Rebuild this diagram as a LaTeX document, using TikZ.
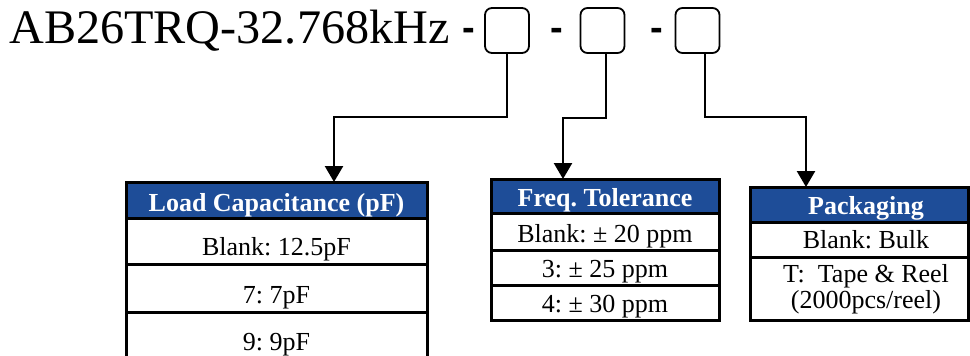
\documentclass[tikz,border=0pt]{standalone}
\usepackage{fontspec}
\setmainfont{Liberation Serif}
\setsansfont{Liberation Sans}
\usetikzlibrary{arrows.meta}
\definecolor{hdrblue}{RGB}{30,77,152}
\frenchspacing
\tikzset{
  cell/.style={draw=black, line width=3pt, rectangle, inner sep=0pt, outer sep=0pt},
  hdr/.style={cell, fill=hdrblue},
  pick/.style={draw=black, line width=1.8pt, rounded corners=7pt, minimum width=44pt, minimum height=45pt, inner sep=0pt},
  conn/.style={line width=2.5pt, -{Triangle[width=18pt,length=16pt]}},
  txt/.style={inner sep=0pt, anchor=base, font=\fontsize{26}{26}\selectfont\frenchspacing},
  htxt/.style={txt, text=white, font=\fontsize{26}{26}\selectfont\bfseries\frenchspacing},
  dashtxt/.style={inner sep=0pt, anchor=base, font=\fontsize{38}{38}\selectfont\sffamily\bfseries}
}
\begin{document}
\begin{tikzpicture}[x=1pt,y=-1pt]
\useasboundingbox (0,0) rectangle (970,356);
% title
\node[inner sep=0pt, anchor=base west, font=\fontsize{48.2}{48.2}\selectfont] (title) at (9,43) {AB26TRQ-32.768kHz};
\node[dashtxt] (d1) at (468.5,40.5) {-};
\node[dashtxt] (d2) at (556.5,40.5) {-};
\node[dashtxt] (d3) at (656.5,40.5) {-};
\node[pick] (s1) at (507,30.5) {};
\node[pick] (s2) at (602.5,30.5) {};
\node[pick] (s3) at (697.5,30.5) {};
% table 1
\node[hdr, minimum width=301pt, minimum height=36pt] (t1) at (276.5,200) {};
\node[cell, minimum width=301pt, minimum height=46pt] (t1a) at (276.5,241) {};
\node[cell, minimum width=301pt, minimum height=48pt] (t1b) at (276.5,288) {};
\node[cell, minimum width=301pt, minimum height=48pt] (t1c) at (276.5,336) {};
\node[htxt] (t1h) at (276.5,211) {Load Capacitance (pF)};
\node[txt] (t1ta) at (276.5,255) {Blank: 12.5pF};
\node[txt] (t1tb) at (276.5,303) {7: 7pF};
\node[txt] (t1tc) at (276.5,350) {9: 9pF};
% table 2
\node[hdr, minimum width=228pt, minimum height=34pt] (t2) at (605,196) {};
\node[cell, minimum width=228pt, minimum height=37pt] (t2a) at (605,231.5) {};
\node[cell, minimum width=228pt, minimum height=35pt] (t2b) at (605,267.5) {};
\node[cell, minimum width=228pt, minimum height=35pt] (t2c) at (605,302.5) {};
\node[htxt] (t2h) at (605,206) {Freq. Tolerance};
\node[txt] (t2ta) at (605,242) {Blank: ± 20 ppm};
\node[txt] (t2tb) at (605,277) {3: ± 25 ppm};
\node[txt] (t2tc) at (605,312) {4: ± 30 ppm};
% table 3
\node[hdr, minimum width=218pt, minimum height=35pt] (t3) at (859,204.5) {};
\node[cell, minimum width=218pt, minimum height=35pt] (t3a) at (859,239.5) {};
\node[cell, minimum width=218pt, minimum height=63pt] (t3b) at (859,288.5) {};
\node[htxt] (t3h) at (866,214) {Packaging};
\node[txt] (t3ta) at (866,248) {Blank: Bulk};
\node[txt] (t3tb) at (866,282) {T:\ \ Tape \& Reel};
\node[txt] (t3tc) at (866,308) {(2000pcs/reel)};
% connectors
\coordinate (b1) at (334,117);
\coordinate (b2) at (563,118);
\coordinate (b3) at (806,117);
\draw[conn] (s1.south) |- (b1) -- (b1 |- t1.north);
\draw[conn] ([xshift=3.5pt]s2.south) |- (b2) -- (b2 |- t2.north);
\draw[conn] ([xshift=7.5pt]s3.south) |- (b3) -- (b3 |- t3.north);
\end{tikzpicture}
\end{document}
